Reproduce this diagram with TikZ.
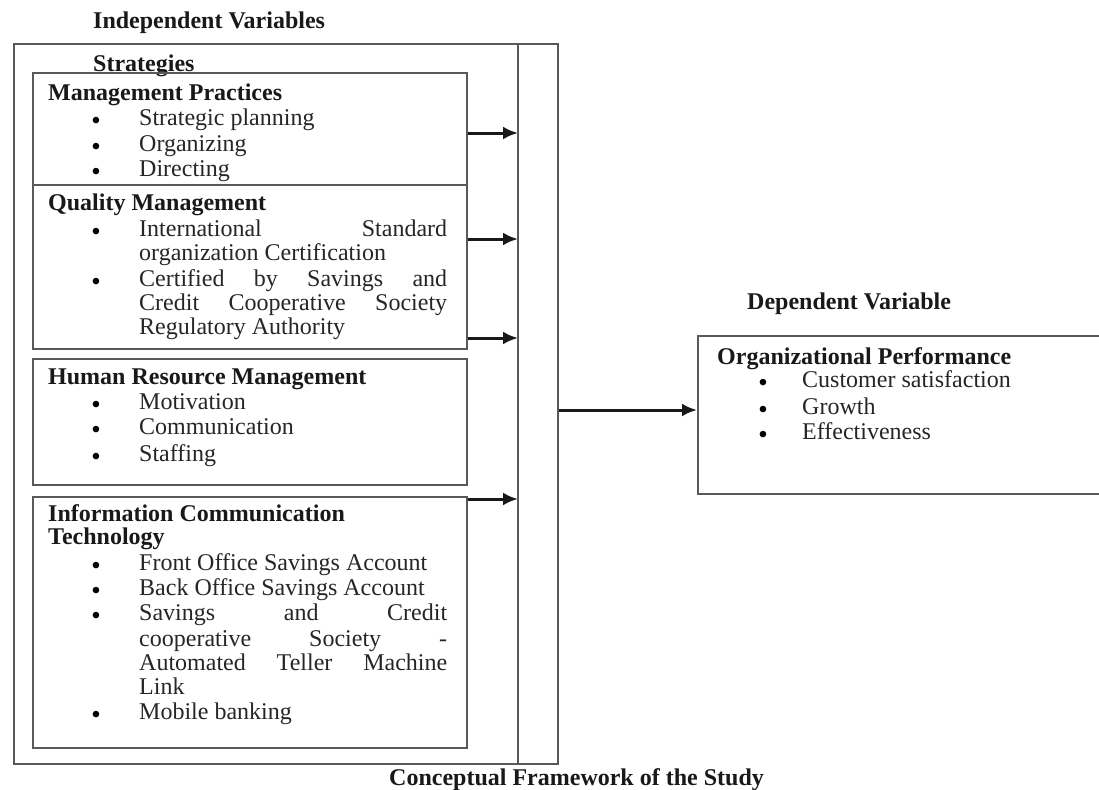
\documentclass[tikz,border=0pt]{standalone}
\usepackage{fontspec}
\setmainfont{Liberation Serif}
\usetikzlibrary{arrows.meta}
\tikzset{
  frame/.style={draw=black!65, line width=1.8pt, inner sep=0pt, anchor=north west},
  txt/.style={anchor=mid west, inner sep=0pt, yshift=-5pt, text=black!85, font=\fontsize{24}{25}\selectfont},
  hd/.style={anchor=mid west, inner sep=0pt, yshift=-5pt, text=black!90, font=\fontsize{24}{25}\selectfont\bfseries},
  bul/.style={inner sep=0pt, anchor=base, yshift=-10.5pt, text=black, font=\fontsize{24}{24}\selectfont\bfseries},
  arr/.style={draw=black!90, line width=3pt, -{Latex[length=15pt,width=13pt]}},
}
\newcommand{\jline}[1]{\makebox[308pt][s]{#1}}
\newcommand{\bdot}{\smash{•}}
\begin{document}
\begin{tikzpicture}[x=1pt,y=-1pt]
\clip (0,0) rectangle (1099,789);
\fill[white] (0,0) rectangle (1099,789);

% titles
\node[hd] (indep) at (93,21) {Independent Variables};
\node[hd] (strat) at (93,64) {Strategies};
\node[hd] (concept) at (389,778) {Conceptual Framework of the Study};
\node[hd] (depv) at (747,302) {Dependent Variable};

% frames
\node[frame, minimum width=544pt, minimum height=720pt] (outer) at (13,43) {};
\coordinate (bartop) at (518,43);
\coordinate (barbot) at (518,763);
\draw[draw=black!65, line width=1.8pt] (bartop) -- (barbot);

\node[frame, minimum width=434pt, minimum height=112pt] (mp) at (32,72) {};
\node[frame, minimum width=434pt, minimum height=164pt] (qm) at (32,184) {};
\node[frame, minimum width=434pt, minimum height=126pt] (hrm) at (32,358) {};
\node[frame, minimum width=434pt, minimum height=251pt] (ict) at (32,496) {};
\node[frame, minimum width=420pt, minimum height=158pt] (op) at (697,335) {};

% Management Practices
\node[hd] (mph) at (48,93) {Management Practices};
\foreach \y/\t [count=\i] in {118/Strategic planning, 144/Organizing, 169/Directing}{
  \node[bul] (mpb\i) at (96,\y) {\bdot};
  \node[txt] (mpt\i) at (139,\y) {\t};
}

% Quality Management
\node[hd] (qmh) at (48,203) {Quality Management};
\node[bul] (qmb1) at (96,229) {\bdot};
\node[txt] (qmt1) at (139,229) {\jline{International Standard}};
\node[txt] (qmt2) at (139,253) {organization Certification};
\node[bul] (qmb2) at (96,279) {\bdot};
\node[txt] (qmt3) at (139,279) {\jline{Certified by Savings and}};
\node[txt] (qmt4) at (139,303) {\jline{Credit Cooperative Society}};
\node[txt] (qmt5) at (139,327) {Regulatory Authority};

% Human Resource Management
\node[hd] (hrmh) at (48,377) {Human Resource Management};
\foreach \y/\t [count=\i] in {402/Motivation, 427/Communication, 454/Staffing}{
  \node[bul] (hrb\i) at (96,\y) {\bdot};
  \node[txt] (hrt\i) at (139,\y) {\t};
}

% ICT
\node[hd] (icth1) at (48,514) {Information Communication};
\node[hd] (icth2) at (48,537) {Technology};
\node[bul] (icb1) at (96,563) {\bdot};
\node[txt] (ict1) at (139,563) {Front Office Savings Account};
\node[bul] (icb2) at (96,588) {\bdot};
\node[txt] (ict2) at (139,588) {Back Office Savings Account};
\node[bul] (icb3) at (96,613) {\bdot};
\node[txt] (ict3) at (139,613) {\jline{Savings and Credit}};
\node[txt] (ict4) at (139,639) {\jline{cooperative Society -}};
\node[txt] (ict5) at (139,663) {\jline{Automated Teller Machine}};
\node[txt] (ict6) at (139,687) {Link};
\node[bul] (icb4) at (96,712) {\bdot};
\node[txt] (ict7) at (139,712) {Mobile banking};

% Organizational Performance
\node[hd] (oph) at (717,357) {Organizational Performance};
\foreach \y/\t [count=\i] in {380/Customer satisfaction, 407/Growth, 432/Effectiveness}{
  \node[bul] (opb\i) at (763,\y) {\bdot};
  \node[txt] (opt\i) at (802,\y) {\t};
}

% arrows
\coordinate (a1) at (518,133);
\coordinate (a2) at (518,239);
\coordinate (a3) at (518,338);
\coordinate (a4) at (518,499);
\coordinate (am) at (600,410);
\draw[arr] (mp.east |- a1) -- (a1);
\draw[arr] (qm.east |- a2) -- (a2);
\draw[arr] (qm.east |- a3) -- (a3);
\draw[arr] (ict.east |- a4) -- (a4);
\draw[arr] (outer.east |- am) -- (op.west |- am);
\end{tikzpicture}
\end{document}
